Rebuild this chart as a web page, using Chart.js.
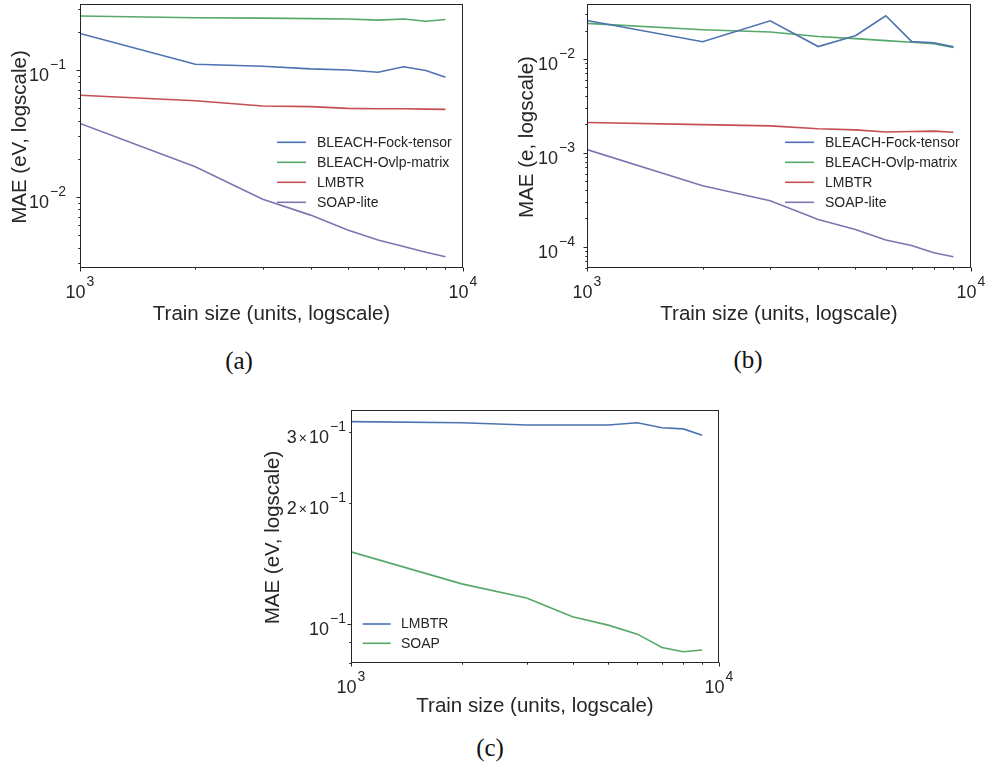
<!DOCTYPE html>
<html>
<head>
<meta charset="utf-8">
<script src="https://cdn.jsdelivr.net/npm/chart.js@4/dist/chart.umd.min.js"></script>
<style>
  html, body { margin: 0; padding: 0; background: #fff; }
  #fig { position: relative; width: 986px; height: 768px; overflow: hidden; background: #fff; }
  #fig canvas { position: absolute; }
  .cap { position: absolute; width: 80px; text-align: center; font-family: "Liberation Serif", "DejaVu Serif", serif;
         font-size: 25px; line-height: 30px; color: #111; }
</style>
</head>
<body>
<div id="fig">
  <canvas id="chartA" width="490" height="345" style="left:0px;top:0px;width:490px;height:345px"></canvas>
  <canvas id="chartB" width="493" height="345" style="left:493px;top:0px;width:493px;height:345px"></canvas>
  <canvas id="chartC" width="500" height="340" style="left:240px;top:390px;width:500px;height:340px"></canvas>
  <div class="cap" style="left:199px;top:346px">(a)</div>
  <div class="cap" style="left:708px;top:345px">(b)</div>
  <div class="cap" style="left:450px;top:733px">(c)</div>
</div>
<script>
// Training-set sizes shared by all three panels
const trainSizes = [1000, 2000, 3000, 4000, 5000, 6000, 7000, 8000, 9000];

// (a) MAE in eV
const fockA     = [0.194, 0.111, 0.107, 0.102, 0.100, 0.096, 0.106, 0.099, 0.0876];
const ovlpA     = [0.266, 0.258, 0.256, 0.254, 0.252, 0.247, 0.252, 0.242, 0.250];
const lmbtrA    = [0.0632, 0.0573, 0.0521, 0.0515, 0.0499, 0.0496, 0.0495, 0.0492, 0.0490];
const soapLiteA = [0.0380, 0.0173, 0.0096, 0.0072, 0.0055, 0.00458, 0.00407, 0.00367, 0.00339];

// (b) MAE in e
const fockB     = [0.0256, 0.0152, 0.0254, 0.0135, 0.0176, 0.0287, 0.0153, 0.0148, 0.0134];
const ovlpB     = [0.0238, 0.0204, 0.0193, 0.0173, 0.0164, 0.0156, 0.0150, 0.0145, 0.0132];
const lmbtrB    = [0.00210, 0.00199, 0.00193, 0.00180, 0.00175, 0.00166, 0.00168, 0.00170, 0.00165];
const soapLiteB = [0.00108, 0.000445, 0.000308, 0.000195, 0.000152, 0.000118, 0.000103, 0.0000863, 0.0000782];

// (c) MAE in eV
const lmbtrC = [0.319, 0.317, 0.313, 0.313, 0.313, 0.317, 0.308, 0.306, 0.295];
const soapC  = [0.1513, 0.1259, 0.1161, 0.1043, 0.0994, 0.0944, 0.0874, 0.0853, 0.0862];

// Labelled tick values
const xTickValues = [1000, 10000];
const yTicksA = [0.01, 0.1];
const yTicksB = [0.0001, 0.001, 0.01];
const yTicksC = [0.1, 0.2, 0.3];

// Series names
const namesAB = ['BLEACH-Fock-tensor', 'BLEACH-Ovlp-matrix', 'LMBTR', 'SOAP-lite'];
const namesC  = ['LMBTR', 'SOAP'];

const COLORS = ['#4C72B0', '#55A868', '#C44E52', '#8172B2'];
const FONT = '"Liberation Sans", Arial, Helvetica, sans-serif';
const INK = '#262626';

function pts(vals) { return trainSizes.map((x, i) => ({ x: x, y: vals[i] })); }

// Power-of-ten label like 10^-1 or 3x10^-1, drawn with a raised exponent
function drawPow(ctx, v, x, baseline, align) {
  const e = Math.floor(Math.log10(v) + 1e-9);
  const m = Math.round(v / Math.pow(10, e));
  const expText = (e < 0 ? '\u2212' : '') + Math.abs(e);
  const segs = [];
  if (m !== 1) {
    segs.push({ t: String(m), size: 18, raise: 0, gap: 2 });
    segs.push({ t: '\u00d7', size: 14, raise: 0, gap: 2 });
  }
  segs.push({ t: '10', size: 18, raise: 0, gap: 1 });
  segs.push({ t: expText, size: 14, raise: 12, gap: 0, bold: true });
  let total = 0;
  segs.forEach(s => { ctx.font = s.size + 'px ' + FONT; s.w = ctx.measureText(s.t).width; total += s.w + s.gap; });
  let cx = align === 'right' ? x - total : x - total / 2;
  ctx.textAlign = 'left';
  ctx.textBaseline = 'alphabetic';
  segs.forEach(s => {
    ctx.font = s.size + 'px ' + FONT;
    ctx.fillText(s.t, cx, baseline - s.raise);
    cx += s.w + s.gap;
  });
}

// Frame, log tick marks, tick labels, axis titles and legend
const logFrame = {
  id: 'logFrame',
  afterDatasetsDraw(chart, args, o) {
    const ctx = chart.ctx;
    const a = chart.chartArea;
    const xs = chart.scales.x, ys = chart.scales.y;
    ctx.save();
    ctx.fillStyle = INK;
    ctx.strokeStyle = INK;
    ctx.lineWidth = 1;
    const L = Math.round(a.left) + 0.5, R = Math.round(a.right) - 0.5;
    const T = Math.round(a.top) + 0.5, B = Math.round(a.bottom) - 0.5;
    ctx.strokeRect(L, T, R - L, B - T);

    // tick marks, one per mantissa 1..9 in every decade of the range
    ctx.beginPath();
    const e0 = Math.floor(Math.log10(ys.min)), e1 = Math.ceil(Math.log10(ys.max));
    for (let e = e0; e <= e1; e++) {
      for (let m = 1; m <= 9; m++) {
        const v = m * Math.pow(10, e);
        if (v < ys.min * 0.999 || v > ys.max * 1.001) continue;
        const py = Math.round(ys.getPixelForValue(v)) + 0.5;
        const len = m === 1 ? 4 : 2.2;
        ctx.moveTo(L - len, py); ctx.lineTo(L, py);
      }
    }
    const f0 = Math.floor(Math.log10(xs.min)), f1 = Math.ceil(Math.log10(xs.max));
    for (let e = f0; e <= f1; e++) {
      for (let m = 1; m <= 9; m++) {
        const v = m * Math.pow(10, e);
        if (v < xs.min * 0.999 || v > xs.max * 1.001) continue;
        const px = Math.round(xs.getPixelForValue(v)) + 0.5;
        const len = m === 1 ? 4 : 2.2;
        ctx.moveTo(px, B); ctx.lineTo(px, B + len);
      }
    }
    ctx.stroke();

    // tick labels
    o.yTicks.forEach(v => drawPow(ctx, v, a.left - o.yGap, ys.getPixelForValue(v) + 11, 'right'));
    xTickValues.forEach(v => drawPow(ctx, v, xs.getPixelForValue(v), a.bottom + 30, 'center'));

    // axis titles
    ctx.font = '20.5px ' + FONT;
    ctx.textAlign = 'center';
    ctx.textBaseline = 'alphabetic';
    ctx.fillText(o.xTitle, (a.left + a.right) / 2, a.bottom + o.xTitleDy);
    ctx.save();
    ctx.translate(o.yTitleX, (a.top + a.bottom) / 2 + 1);
    ctx.rotate(-Math.PI / 2);
    ctx.fillText(o.yTitle, 0, 0);
    ctx.restore();

    // legend
    ctx.font = '14px ' + FONT;
    ctx.textAlign = 'left';
    ctx.textBaseline = 'middle';
    chart.data.datasets.forEach((ds, i) => {
      const ly = o.legend.y + i * o.legend.dy;
      ctx.strokeStyle = ds.borderColor;
      ctx.lineWidth = 1.6;
      ctx.beginPath();
      ctx.moveTo(o.legend.x, ly); ctx.lineTo(o.legend.x + o.legend.len, ly);
      ctx.stroke();
      ctx.fillStyle = INK;
      ctx.fillText(ds.label, o.legend.x + o.legend.len + o.legend.gap, ly + 0.5);
    });
    ctx.restore();
  }
};

function makeChart(id, series, names, yMin, yMax, pad, frameOpts) {
  return new Chart(document.getElementById(id), {
    type: 'line',
    data: {
      datasets: series.map((vals, i) => ({
        label: names[i],
        data: pts(vals),
        borderColor: COLORS[i],
        backgroundColor: COLORS[i],
        borderWidth: 1.6,
        pointRadius: 0,
        tension: 0,
        fill: false
      }))
    },
    options: {
      responsive: false,
      animation: false,
      devicePixelRatio: 1,
      layout: { padding: pad },
      plugins: { legend: { display: false }, tooltip: { enabled: false }, logFrame: frameOpts },
      scales: {
        x: { type: 'logarithmic', min: 1000, max: 10000, display: false },
        y: { type: 'logarithmic', min: yMin, max: yMax, display: false }
      }
    },
    plugins: [logFrame]
  });
}

makeChart('chartA', [fockA, ovlpA, lmbtrA, soapLiteA], namesAB, 0.00276, 0.331,
  { left: 80, right: 27, top: 4, bottom: 77 },
  { yTicks: yTicksA, yGap: 14, xTitle: 'Train size (units, logscale)', xTitleDy: 51.5,
    yTitle: 'MAE (eV, logscale)', yTitleX: 26,
    legend: { x: 277, y: 142.3, dy: 20, len: 29, gap: 11 } });

makeChart('chartB', [fockB, ovlpB, lmbtrB, soapLiteB], namesAB, 0.0000593, 0.0383,
  { left: 94, right: 15, top: 4, bottom: 77 },
  { yTicks: yTicksB, yGap: 12, xTitle: 'Train size (units, logscale)', xTitleDy: 51.5,
    yTitle: 'MAE (e, logscale)', yTitleX: 39.6,
    legend: { x: 292, y: 142.3, dy: 20, len: 29, gap: 11 } });

makeChart('chartC', [lmbtrC, soapC], namesC, 0.080, 0.341,
  { left: 111, right: 21, top: 20, bottom: 67 },
  { yTicks: yTicksC, yGap: 5, xTitle: 'Train size (units, logscale)', xTitleDy: 49,
    yTitle: 'MAE (eV, logscale)', yTitleX: 39.3,
    legend: { x: 122.7, y: 234, dy: 19.3, len: 28, gap: 10.3 } });
</script>
</body>
</html>
